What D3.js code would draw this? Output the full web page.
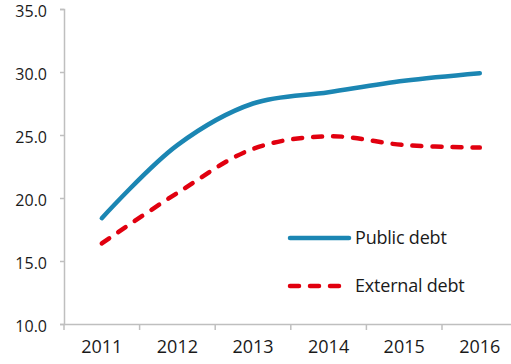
<!DOCTYPE html>
<html>
<head>
<meta charset="utf-8">
<script src="https://cdn.jsdelivr.net/npm/d3@7"></script>
<style>
  html, body { margin: 0; padding: 0; background: #fff; }
  svg { display: block; font-family: "Open Sans", sans-serif; }
</style>
</head>
<body>
<svg id="chart" width="511" height="364"></svg>
<script>
// Debt ratios, 2011–2016
const years = ["2011", "2012", "2013", "2014", "2015", "2016"];
const publicDebt = [18.4, 24.2, 27.5, 28.4, 29.3, 29.9];
const externalDebt = [16.4, 20.4, 23.9, 24.9, 24.2, 24.0];
const yTicks = [10, 15, 20, 25, 30, 35];
const seriesNames = ["Public debt", "External debt"];

const svg = d3.select("#chart");
const plotLeft = 64, plotTop = 9, plotBottom = 324, plotRight = 517.6;
const axisColor = "#bfbfbf";
const textColor = "#1a1a1a";

const x = d3.scaleBand().domain(years).range([plotLeft, plotRight]);
const y = d3.scaleLinear().domain([10, 35]).range([plotBottom, plotTop]);

// y axis
const yAxis = svg.append("g")
  .attr("transform", `translate(${plotLeft},0)`)
  .call(d3.axisLeft(y).tickValues(yTicks).tickSize(4).tickPadding(13)
    .tickFormat(d3.format(".1f")));
yAxis.select(".domain").attr("stroke", axisColor).attr("stroke-width", 1.5);
yAxis.selectAll(".tick line").attr("stroke", axisColor).attr("stroke-width", 1.5);
yAxis.selectAll(".tick text").attr("fill", textColor)
  .style("font-size", "16px").style("font-family", "'Open Sans', sans-serif")
  .attr("dy", "0.45em");

// x axis: labels centred in bands, ticks on band edges
const xAxis = svg.append("g")
  .attr("transform", `translate(0,${plotBottom})`)
  .call(d3.axisBottom(x).tickSize(0).tickPadding(16));
xAxis.select(".domain").attr("stroke", axisColor).attr("stroke-width", 1.5);
xAxis.selectAll(".tick text").attr("fill", textColor)
  .style("font-size", "18px").style("font-family", "'Open Sans', sans-serif");
const edges = d3.range(years.length + 1).map(i => plotLeft + i * x.step());
xAxis.selectAll(".edge").data(edges).enter().append("line")
  .attr("class", "edge")
  .attr("x1", d => d).attr("x2", d => d)
  .attr("y1", 0).attr("y2", 6)
  .attr("stroke", axisColor).attr("stroke-width", 1.5);

// series lines
const line = d3.line()
  .x((d, i) => x(years[i]) + x.bandwidth() / 2)
  .y(d => y(d))
  .curve(d3.curveCatmullRom.alpha(0.5));

const styles = [
  { color: "#1b86b3", dash: null },
  { color: "#e1000f", dash: "9,11" }
];

[publicDebt, externalDebt].forEach((vals, k) => {
  svg.append("path")
    .datum(vals)
    .attr("d", line)
    .attr("fill", "none")
    .attr("stroke", styles[k].color)
    .attr("stroke-width", 4.5)
    .attr("stroke-linecap", "round")
    .attr("stroke-dasharray", styles[k].dash);
});

// legend
const legend = svg.append("g");
const legendRows = [238, 286];
seriesNames.forEach((name, k) => {
  legend.append("line")
    .attr("x1", 290).attr("x2", k === 0 ? 349 : 345)
    .attr("y1", legendRows[k]).attr("y2", legendRows[k])
    .attr("stroke", styles[k].color)
    .attr("stroke-width", 4.5)
    .attr("stroke-linecap", "round")
    .attr("stroke-dasharray", styles[k].dash);
  legend.append("text")
    .attr("x", 355).attr("y", legendRows[k])
    .attr("dy", "0.36em")
    .attr("fill", textColor)
    .style("font-size", "18px")
    .style("letter-spacing", "-0.2px")
    .text(name);
});
</script>
</body>
</html>
